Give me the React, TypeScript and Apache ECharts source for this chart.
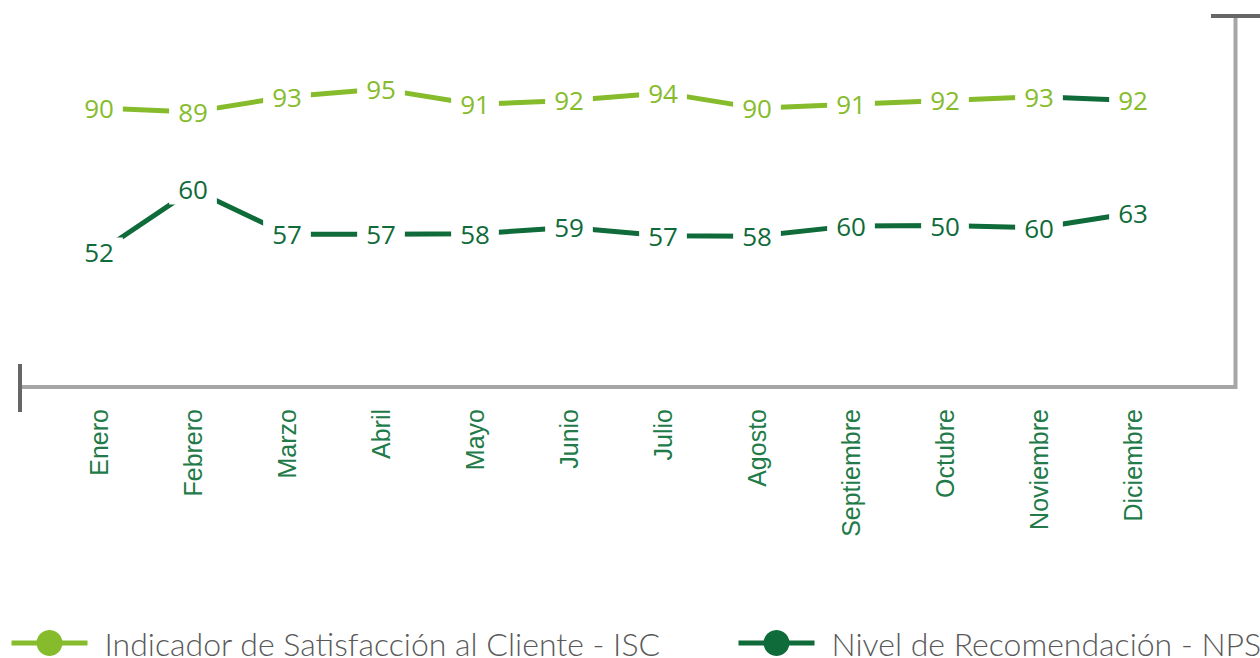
import React, { useEffect, useRef } from "react";
import * as echarts from "echarts";

const months = ["Enero", "Febrero", "Marzo", "Abril", "Mayo", "Junio", "Julio", "Agosto", "Septiembre", "Octubre", "Noviembre", "Diciembre"];
const iscValues = [90, 89, 93, 95, 91, 92, 94, 90, 91, 92, 93, 92];
// plotted positions of the NPS line
const npsPlotted = [52, 68.6, 56.8, 56.8, 56.9, 58.6, 56.4, 56.3, 59, 59.1, 58.5, 62.4];
// data labels as printed on the picture
const npsLabels = [52, 60, 57, 57, 58, 59, 57, 58, 60, 50, 60, 63];
const iscName = "Indicador de Satisfacción al Cliente - ISC";
const npsName = "Nivel de Recomendación - NPS";

const LIGHT = "#86bc2b";
const DARK = "#0f6b39";

export default function App() {
  const ref = useRef<HTMLDivElement>(null);
  useEffect(() => {
    if (!ref.current) return;
    const chart = echarts.init(ref.current, undefined, { renderer: "svg" });
    const n = iscValues.length;
    const iscMain = iscValues.map((v, i) => (i < n - 1 ? v : "-"));
    const iscLast = iscValues.map((v, i) =>
      i === n - 2 ? { value: v, label: { show: false } } : i === n - 1 ? v : "-"
    );
    const labelBase = {
      show: true,
      position: "inside",
      fontSize: 26,
      fontFamily: "Open Sans",
      backgroundColor: "#ffffff",
      padding: [2, 9],
    };
    const legendText = {
      fontSize: 32,
      fontFamily: "Lato",
      fontWeight: 300,
      color: "#595959",
      padding: [0, 0, 0, 12],
    };
    chart.setOption({
      animation: false,
      backgroundColor: "#ffffff",
      grid: { left: 52, right: 80, top: 15, bottom: 271 },
      xAxis: {
        type: "category",
        data: months,
        axisLine: { show: false },
        axisTick: { show: false },
        axisLabel: {
          rotate: 90,
          margin: 22,
          fontSize: 25,
          fontFamily: "Liberation Sans",
          color: "#217a48",
        },
      },
      yAxis: {
        type: "value",
        min: 16.6,
        max: 114.5,
        show: false,
        splitLine: { show: false },
      },
      legend: [
        {
          data: [iscName],
          left: 9,
          top: 627,
          padding: 0,
          itemWidth: 76,
          itemHeight: 32.5,
          lineStyle: { width: 5 },
          textStyle: legendText,
        },
        {
          data: [npsName],
          left: 736,
          top: 627,
          padding: 0,
          itemWidth: 76,
          itemHeight: 32.5,
          lineStyle: { width: 5 },
          textStyle: legendText,
        },
      ],
      series: [
        {
          name: "isc-last",
          type: "line",
          data: iscLast,
          symbol: "circle",
          symbolSize: 1,
          lineStyle: { color: DARK, width: 5 },
          itemStyle: { color: LIGHT },
          label: { ...labelBase, color: LIGHT },
        },
        {
          name: iscName,
          type: "line",
          data: iscMain,
          symbol: "circle",
          symbolSize: 1,
          lineStyle: { color: LIGHT, width: 5 },
          itemStyle: { color: LIGHT },
          label: { ...labelBase, color: LIGHT },
        },
        {
          name: npsName,
          type: "line",
          data: npsPlotted,
          symbol: "circle",
          symbolSize: 1,
          lineStyle: { color: DARK, width: 5 },
          itemStyle: { color: DARK },
          label: {
            ...labelBase,
            color: DARK,
            formatter: (p: any) => String(npsLabels[p.dataIndex]),
          },
        },
      ],
      graphic: [
        { type: "line", shape: { x1: 20, y1: 387, x2: 1237, y2: 387 }, style: { stroke: "#a6a6a6", lineWidth: 4 } },
        { type: "line", shape: { x1: 1235.5, y1: 16, x2: 1235.5, y2: 389 }, style: { stroke: "#a6a6a6", lineWidth: 4 } },
        { type: "line", shape: { x1: 20, y1: 364, x2: 20, y2: 412 }, style: { stroke: "#666666", lineWidth: 4 } },
        { type: "line", shape: { x1: 1211, y1: 16, x2: 1260, y2: 16 }, style: { stroke: "#666666", lineWidth: 4 } },
      ],
    });
    return () => chart.dispose();
  }, []);
  return <div ref={ref} style={{ width: 1260, height: 658, position: "absolute", left: 0, top: 0 }} />;
}
